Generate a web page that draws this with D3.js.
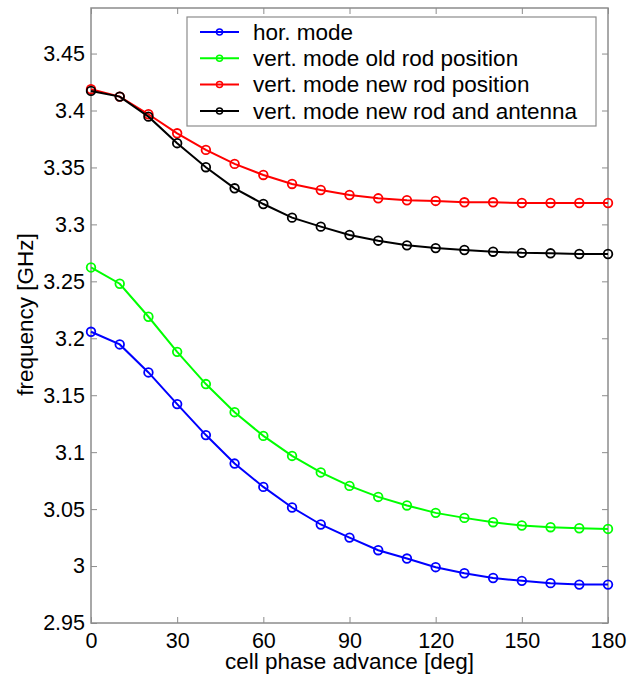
<!DOCTYPE html>
<html>
<head>
<meta charset="utf-8">
<script src="https://cdn.jsdelivr.net/npm/d3@7"></script>
<style>
  body { margin: 0; background: #fff; }
  svg { display: block; font-family: "Liberation Sans", Arial, sans-serif; }
</style>
</head>
<body>
<svg id="chart" width="638" height="677"></svg>
<script>
// phase advance per cell [deg]
const phase = [0, 10, 20, 30, 40, 50, 60, 70, 80, 90, 100, 110, 120, 130, 140, 150, 160, 170, 180];

// frequencies [GHz]
const horMode = [3.2057, 3.1946, 3.1700, 3.1422, 3.1150, 3.0900, 3.0695, 3.0514, 3.0365, 3.0250,
  3.0139, 3.0066, 2.9990, 2.9937, 2.9895, 2.9870, 2.9850, 2.9837, 2.9837];
const vertOld = [3.2622, 3.2479, 3.2189, 3.1881, 3.1598, 3.1351, 3.1143, 3.0967, 3.0822, 3.0704,
  3.0607, 3.0532, 3.0467, 3.0423, 3.0385, 3.0356, 3.0341, 3.0332, 3.0326];
const vertNew = [3.4187, 3.4122, 3.3967, 3.3800, 3.3654, 3.3531, 3.3434, 3.3355, 3.3302, 3.3258,
  3.3229, 3.3212, 3.3206, 3.3194, 3.3194, 3.3188, 3.3188, 3.3188, 3.3188];
const vertNewAnt = [3.4172, 3.4122, 3.3946, 3.3713, 3.3502, 3.3317, 3.3179, 3.3059, 3.2980, 3.2907,
  3.2857, 3.2816, 3.2792, 3.2775, 3.2760, 3.2750, 3.2746, 3.2740, 3.2740];

const seriesNames = ['hor. mode', 'vert. mode old rod position', 'vert. mode new rod position', 'vert. mode new rod and antenna'];
const seriesColors = ['#0000ff', '#00ff00', '#ff0000', '#000000'];
const xTicks = [0, 30, 60, 90, 120, 150, 180];
const yTicks = [2.95, 3, 3.05, 3.1, 3.15, 3.2, 3.25, 3.3, 3.35, 3.4, 3.45];

const series = [horMode, vertOld, vertNew, vertNewAnt].map((vals, i) => ({
  name: seriesNames[i],
  color: seriesColors[i],
  points: vals.map((v, j) => ({ x: phase[j], y: v }))
}));

const margin = { top: 8, right: 30, bottom: 54, left: 91 };
const width = 638, height = 677;
const innerWidth = width - margin.left - margin.right;
const innerHeight = height - margin.top - margin.bottom;
const axisColor = '#8c8c8c';

const svg = d3.select('#chart');
const chart = svg.append('g')
  .attr('transform', `translate(${margin.left}, ${margin.top})`);

const xScale = d3.scaleLinear().domain([0, 180]).range([0, innerWidth]);
const yScale = d3.scaleLinear().domain([2.95, 3.49]).range([innerHeight, 0]);

// axes with inward ticks, mirrored on top and right
const styleAxis = (g) => {
  g.selectAll('.domain').remove();
  g.selectAll('.tick line').attr('stroke', axisColor);
  g.selectAll('.tick text').attr('fill', '#000').style('font-size', '21.5px');
};

chart.append('g')
  .attr('transform', `translate(0, ${innerHeight})`)
  .call(d3.axisBottom(xScale).tickValues(xTicks).tickSize(-6).tickPadding(10).tickFormat(d3.format('d')))
  .call(styleAxis)
  .selectAll('.tick text').attr('dy', '0.71em');

chart.append('g')
  .call(d3.axisTop(xScale).tickValues(xTicks).tickSize(-6).tickFormat(''))
  .call(styleAxis);

chart.append('g')
  .call(d3.axisLeft(yScale).tickValues(yTicks).tickSize(-6).tickPadding(6).tickFormat(d3.format('')))
  .call(styleAxis);

chart.append('g')
  .attr('transform', `translate(${innerWidth}, 0)`)
  .call(d3.axisRight(yScale).tickValues(yTicks).tickSize(-6).tickFormat(''))
  .call(styleAxis);

// box
chart.append('rect')
  .attr('width', innerWidth)
  .attr('height', innerHeight)
  .attr('fill', 'none')
  .attr('stroke', axisColor)
  .attr('stroke-width', 1.5);

// axis labels
chart.append('text')
  .attr('x', innerWidth / 2)
  .attr('y', innerHeight + 46)
  .attr('text-anchor', 'middle')
  .style('font-size', '22.5px')
  .text('cell phase advance [deg]');

chart.append('text')
  .attr('transform', 'rotate(-90)')
  .attr('x', -306.5)
  .attr('y', -58)
  .attr('text-anchor', 'middle')
  .style('font-size', '22.5px')
  .text('frequency [GHz]');

// lines + circle markers
const line = d3.line()
  .x(d => xScale(d.x))
  .y(d => yScale(d.y));

series.forEach(s => {
  const g = chart.append('g');
  g.append('path')
    .datum(s.points)
    .attr('d', line)
    .attr('fill', 'none')
    .attr('stroke', s.color)
    .attr('stroke-width', 2);
  g.selectAll('circle')
    .data(s.points)
    .enter()
    .append('circle')
    .attr('cx', d => xScale(d.x))
    .attr('cy', d => yScale(d.y))
    .attr('r', 4.3)
    .attr('fill', 'none')
    .attr('stroke', s.color)
    .attr('stroke-width', 1.8);
});

// legend
const legend = svg.append('g')
  .attr('transform', 'translate(187, 17)');

legend.append('rect')
  .attr('width', 409)
  .attr('height', 109)
  .attr('fill', '#fff')
  .attr('stroke', axisColor)
  .attr('stroke-width', 1.2);

const legendItems = legend.selectAll('.legend-item')
  .data(series)
  .enter()
  .append('g')
  .attr('class', 'legend-item')
  .attr('transform', (d, i) => `translate(0, ${15 + i * 26.3})`);

legendItems.append('line')
  .attr('x1', 13).attr('x2', 52)
  .attr('stroke', d => d.color)
  .attr('stroke-width', 2);

legendItems.append('circle')
  .attr('cx', 32.5)
  .attr('r', 3)
  .attr('fill', 'none')
  .attr('stroke', d => d.color)
  .attr('stroke-width', 1.5);

legendItems.append('text')
  .attr('x', 66)
  .attr('dy', '0.35em')
  .style('font-size', '22.5px')
  .text(d => d.name);
</script>
</body>
</html>
